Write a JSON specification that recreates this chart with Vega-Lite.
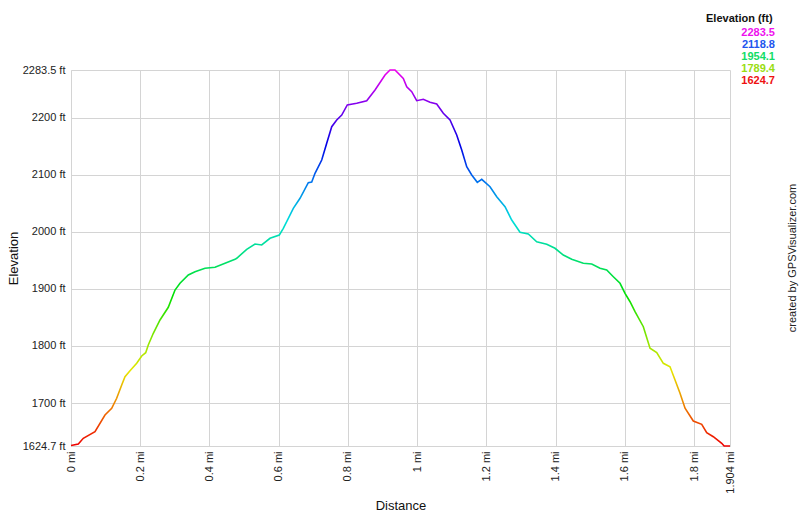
{
  "$schema": "https://vega.github.io/schema/vega-lite/v6.json",
  "width": 659,
  "height": 376,
  "autosize": {"type": "none"},
  "padding": {"left": 71, "top": 70, "right": 70, "bottom": 71},
  "background": "white",
  "title": {"text": "created by GPSVisualizer.com", "orient": "right", "frame": "group", "angle": 270, "baseline": "middle", "offset": 7, "fontSize": 11, "fontWeight": "normal", "color": "#222", "font": "Liberation Sans"},
  "config": {
    "view": {"stroke": null},
    "font": "Liberation Sans",
    "axis": {"gridColor": "#d4d4d4", "gridWidth": 1, "domainColor": "#d4d4d4", "ticks": false, "labelFontSize": 11, "labelColor": "#222", "titleFontSize": 13, "titleFontWeight": "normal", "titleColor": "#111", "labelFont": "Liberation Sans", "titleFont": "Liberation Sans"}
  },
  "layer": [
    {
      "data": {"values": [
        {"d": 0, "e": 1625.5},
        {"d": 0.0211, "e": 1628.2},
        {"d": 0.0355, "e": 1638.2},
        {"d": 0.0693, "e": 1649.8},
        {"d": 0.0982, "e": 1679.0},
        {"d": 0.1176, "e": 1690.8},
        {"d": 0.132, "e": 1708.3},
        {"d": 0.1465, "e": 1731.6},
        {"d": 0.156, "e": 1746.1},
        {"d": 0.1705, "e": 1756.6},
        {"d": 0.1898, "e": 1769.6},
        {"d": 0.2043, "e": 1782.4},
        {"d": 0.2158, "e": 1788.2},
        {"d": 0.2233, "e": 1801.7},
        {"d": 0.2378, "e": 1822.2},
        {"d": 0.2572, "e": 1845.5},
        {"d": 0.2811, "e": 1867.7},
        {"d": 0.3005, "e": 1898.0},
        {"d": 0.3149, "e": 1909.8},
        {"d": 0.3389, "e": 1924.3},
        {"d": 0.3583, "e": 1930.1},
        {"d": 0.3872, "e": 1936.1},
        {"d": 0.4161, "e": 1937.8},
        {"d": 0.445, "e": 1944.8},
        {"d": 0.4739, "e": 1951.8},
        {"d": 0.4788, "e": 1953.6},
        {"d": 0.5077, "e": 1969.3},
        {"d": 0.5316, "e": 1978.6},
        {"d": 0.551, "e": 1976.9},
        {"d": 0.575, "e": 1988.6},
        {"d": 0.6019, "e": 1994.4},
        {"d": 0.6134, "e": 2006.1},
        {"d": 0.6279, "e": 2023.6},
        {"d": 0.6423, "e": 2041.2},
        {"d": 0.6617, "e": 2058.7},
        {"d": 0.6856, "e": 2086.0},
        {"d": 0.6955, "e": 2087.0},
        {"d": 0.705, "e": 2102.5},
        {"d": 0.7244, "e": 2125.8},
        {"d": 0.7388, "e": 2155.1},
        {"d": 0.7533, "e": 2184.1},
        {"d": 0.7677, "e": 2195.9},
        {"d": 0.7822, "e": 2204.6},
        {"d": 0.7983, "e": 2222.2},
        {"d": 0.8255, "e": 2225.1},
        {"d": 0.8544, "e": 2229.7},
        {"d": 0.8784, "e": 2248.4},
        {"d": 0.9073, "e": 2274.7},
        {"d": 0.9217, "e": 2283.5},
        {"d": 0.9361, "e": 2283.5},
        {"d": 0.9601, "e": 2268.9},
        {"d": 0.97, "e": 2254.2},
        {"d": 0.9844, "e": 2245.5},
        {"d": 0.9988, "e": 2229.7},
        {"d": 1.0179, "e": 2232.1},
        {"d": 1.0373, "e": 2226.9},
        {"d": 1.0566, "e": 2223.9},
        {"d": 1.0757, "e": 2207.6},
        {"d": 1.0951, "e": 2195.9},
        {"d": 1.1144, "e": 2169.6},
        {"d": 1.1289, "e": 2143.3},
        {"d": 1.1433, "e": 2114.1},
        {"d": 1.1578, "e": 2099.5},
        {"d": 1.1739, "e": 2086.7},
        {"d": 1.1867, "e": 2092.0},
        {"d": 1.2106, "e": 2079.0},
        {"d": 1.23, "e": 2061.5},
        {"d": 1.254, "e": 2044.0},
        {"d": 1.2733, "e": 2020.7},
        {"d": 1.2973, "e": 1999.1},
        {"d": 1.3213, "e": 1996.1},
        {"d": 1.3456, "e": 1982.6},
        {"d": 1.3745, "e": 1978.1},
        {"d": 1.3984, "e": 1971.1},
        {"d": 1.4224, "e": 1959.3},
        {"d": 1.4467, "e": 1951.8},
        {"d": 1.4802, "e": 1944.8},
        {"d": 1.5045, "e": 1943.6},
        {"d": 1.5285, "e": 1936.0},
        {"d": 1.5478, "e": 1933.1},
        {"d": 1.5669, "e": 1921.3},
        {"d": 1.5863, "e": 1909.8},
        {"d": 1.6007, "e": 1892.2},
        {"d": 1.6152, "e": 1877.5},
        {"d": 1.6296, "e": 1860.0},
        {"d": 1.6536, "e": 1833.7},
        {"d": 1.6729, "e": 1795.9},
        {"d": 1.6923, "e": 1788.2},
        {"d": 1.7114, "e": 1769.6},
        {"d": 1.7307, "e": 1763.6},
        {"d": 1.7452, "e": 1740.3},
        {"d": 1.7596, "e": 1717.0},
        {"d": 1.7741, "e": 1690.8},
        {"d": 1.798, "e": 1668.5},
        {"d": 1.8223, "e": 1662.7},
        {"d": 1.8367, "e": 1648.0},
        {"d": 1.8558, "e": 1641.0},
        {"d": 1.8801, "e": 1629.4},
        {"d": 1.887, "e": 1624.7},
        {"d": 1.904, "e": 1624.7}
      ]},
      "mark": {
        "type": "line",
        "strokeWidth": 1.6,
        "color": {
          "gradient": "linear", "x1": 0, "y1": 1, "x2": 0, "y2": 0,
          "stops": [
            {"offset": 0, "color": "#ee0000"},
            {"offset": 0.1, "color": "#ee7700"},
            {"offset": 0.2, "color": "#e6e600"},
            {"offset": 0.3, "color": "#77e600"},
            {"offset": 0.4, "color": "#00e000"},
            {"offset": 0.5, "color": "#00e077"},
            {"offset": 0.6, "color": "#00dddd"},
            {"offset": 0.7, "color": "#0077ee"},
            {"offset": 0.8, "color": "#0000e6"},
            {"offset": 0.9, "color": "#7700ee"},
            {"offset": 1, "color": "#ee00ee"}
          ]
        }
      },
      "encoding": {
        "x": {
          "field": "d", "type": "quantitative",
          "scale": {"domain": [0, 1.904], "nice": false, "zero": false},
          "axis": {"title": "Distance", "values": [0, 0.2, 0.4, 0.6, 0.8, 1, 1.2, 1.4, 1.6, 1.8, 1.904], "labelExpr": "datum.value + ' mi'", "labelAngle": 270, "labelAlign": "right", "labelBaseline": "middle", "labelPadding": 5, "titlePadding": 6, "labelFlush": false, "labelOverlap": false}
        },
        "y": {
          "field": "e", "type": "quantitative",
          "scale": {"domain": [1624.7, 2283.5], "nice": false, "zero": false},
          "axis": {"title": "Elevation", "values": [1624.7, 1700, 1800, 1900, 2000, 2100, 2200, 2283.5], "labelExpr": "datum.value + ' ft'", "labelPadding": 6, "titlePadding": 2, "labelFlush": false, "labelOverlap": false}
        }
      }
    },
    {
      "data": {"values": [
        {"label": "2283.5"},
        {"label": "2118.8"},
        {"label": "1954.1"},
        {"label": "1789.4"},
        {"label": "1624.7"}
      ]},
      "mark": {"type": "point", "opacity": 0},
      "encoding": {
        "color": {
          "field": "label", "type": "nominal",
          "scale": {"domain": ["2283.5", "2118.8", "1954.1", "1789.4", "1624.7"], "range": ["#ee11ee", "#2255ee", "#11dd66", "#99dd11", "#ee1111"]},
          "legend": {"title": "Elevation (ft)", "orient": "none", "legendX": 635, "legendY": -57, "titleFontSize": 11, "titleFontWeight": "bold", "titleColor": "#111", "titlePadding": 3, "labelFontSize": 11, "labelFontWeight": "bold", "labelColor": {"expr": "scale('color', datum.value)"}, "labelAlign": "right", "labelOffset": 58, "symbolSize": 0, "symbolOpacity": 0, "symbolStrokeWidth": 0, "rowPadding": 0, "padding": 0}
        }
      }
    }
  ]
}
